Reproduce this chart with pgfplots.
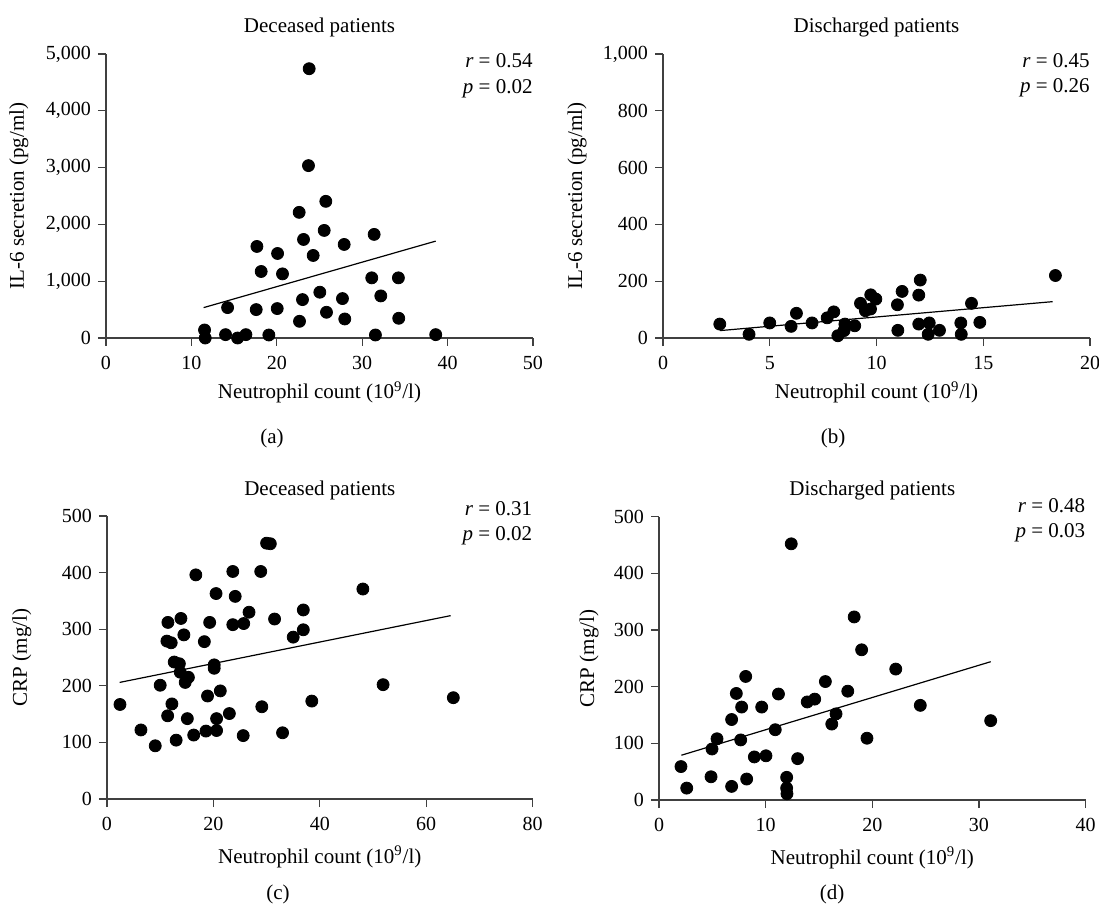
\documentclass[border=0pt]{standalone}
\usepackage{fontspec}
\setmainfont{Liberation Serif}
\usepackage{pgfplots}
\pgfplotsset{compat=1.18}
\pgfplotsset{
  myax/.style={
    scale only axis, width=213.5pt, height=142pt,
    axis lines=left,
    axis line style={-, draw=black!75, line width=0.6pt},
    every tick/.style={draw=black!75, line width=0.6pt},
    tick align=outside, major tick length=4pt,
    minor tick num=0,
    /pgf/number format/assume math mode=true,
    /pgf/number format/1000 sep={,},
    scaled ticks=false,
    ticklabel style={font=\fontsize{10}{12}\selectfont},
    xticklabel style={yshift=-1.5pt},
    label style={font=\fontsize{10.5}{12.6}\selectfont},
    xlabel style={at={(rel axis cs:0.5,0)}, anchor=base, yshift=-30.5pt},
    xlabel={Neutrophil count (10\textsuperscript{9}/l)},
    clip=false,
    anchor=south west,
    enlargelimits=false,
  },
  pts/.style={only marks, mark=*, mark size=3pt, color=black},
  fit/.style={no marks, black, line width=0.6pt},
}
\newcommand{\ann}[3]{%
  \node[anchor=base east, inner sep=0pt, font=\fontsize{10.5}{12.6}\selectfont] at (rel axis cs:1,1) [yshift=#3] {\textit{r} = #1};
  \node[anchor=base east, inner sep=0pt, font=\fontsize{10.5}{12.6}\selectfont] at (rel axis cs:1,1) [yshift=#3-12.5pt] {\textit{p} = #2};}
\newcommand{\ttl}[1]{%
  \node[anchor=base, inner sep=0pt, font=\fontsize{10.5}{12.6}\selectfont] at (rel axis cs:0.5,1) [yshift=10.5pt] {#1};}
\begin{document}
\begin{tikzpicture}
\useasboundingbox (0,0) rectangle (549.5pt,453.5pt);
% (a)
\begin{axis}[myax, at={(53pt,284.5pt)},
  xmin=0, xmax=50, ymin=0, ymax=5000,
  xtick={0,10,...,50}, ytick={0,1000,...,5000},
  ylabel={IL-6 secretion (pg/ml)},
  ylabel style={at={(rel axis cs:-0.204,0.5)}, anchor=center}]
\addplot[pts] coordinates {
(23.79,4741) (23.71,3035) (25.74,2406) (22.62,2212) (25.55,1894) (31.40,1824)
(23.13,1735) (27.89,1647) (17.67,1612) (20.09,1488) (24.26,1453) (18.17,1171)
(20.67,1129) (31.12,1059) (34.24,1059) (32.18,741) (25.04,806) (23.01,676)
(27.69,694) (14.24,535) (17.59,500) (20.05,518) (25.82,453) (27.96,335)
(34.28,347) (22.66,294) (11.54,141) (11.62,0) (14.0,59) (15.41,0)
(16.38,59) (19.07,53) (31.55,53) (38.61,59)};
\addplot[fit] coordinates {(11.43,535) (38.61,1706)};
\ttl{Deceased patients}
\ann{0.54}{0.02}{-7pt}
\end{axis}
% (b)
\begin{axis}[myax, at={(331.5pt,284.5pt)},
  xmin=0, xmax=20, ymin=0, ymax=1000,
  xtick={0,5,...,20}, ytick={0,200,...,1000},
  ylabel={IL-6 secretion (pg/ml)},
  ylabel style={at={(rel axis cs:-0.201,0.5)}, anchor=center}]
\addplot[pts] coordinates {
(2.66,49) (4.03,13) (5.0,53) (6.0,41) (6.25,87) (6.98,53) (7.69,71) (8.0,92)
(8.19,8) (8.48,26) (8.52,49) (8.98,43) (9.25,122) (9.48,96) (9.72,102)
(9.73,152) (9.97,137) (10.98,117) (11.0,27) (11.2,164) (11.98,151) (12.05,204)
(11.98,49) (12.47,53) (12.42,13) (12.95,27) (13.95,53) (13.97,13) (14.45,122)
(14.84,55) (18.38,220)};
\addplot[fit] coordinates {(2.66,26) (18.25,128)};
\ttl{Discharged patients}
\ann{0.45}{0.26}{-7pt}
\end{axis}
% (c)
\begin{axis}[myax, at={(53.5pt,54pt)}, width=212.8pt, height=141.5pt,
  xmin=0, xmax=80, ymin=0, ymax=500,
  xtick={0,20,...,80}, ytick={0,100,...,500},
  xlabel style={yshift=-1.5pt},
  ylabel={CRP (mg/l)},
  ylabel style={at={(rel axis cs:-0.2,0.5)}, anchor=center}]
\addplot[pts] coordinates {
(2.44,167) (6.38,122) (9.07,94) (10.0,201) (11.45,312) (11.26,279) (12.07,276)
(12.2,168) (11.4,147) (13.0,104) (12.64,242) (13.6,239) (13.9,319) (14.45,290)
(13.77,224) (14.7,206) (15.3,215) (15.1,142) (16.3,113) (16.7,396) (18.3,278)
(18.9,182) (18.6,120) (19.3,312) (20.15,237) (20.15,231) (20.5,363) (20.6,142)
(20.6,121) (21.3,191) (23.0,151) (23.65,402) (23.65,308) (24.1,358) (25.7,310)
(25.6,112) (26.7,330) (28.9,402) (29.1,163) (30.0,452) (30.7,451) (31.5,318)
(33.0,117) (35.0,286) (36.9,334) (36.9,299) (38.5,173) (48.1,371) (51.9,202)
(65.1,179)};
\addplot[fit] coordinates {(2.38,206) (64.6,324)};
\ttl{Deceased patients}
\ann{0.31}{0.02}{0.5pt}
\end{axis}
% (d)
\begin{axis}[myax, at={(329.5pt,53.5pt)}, width=213.3pt, height=141.7pt,
  xmin=0, xmax=40, ymin=0, ymax=500,
  xtick={0,10,...,40}, ytick={0,100,...,500},
  xlabel style={yshift=-1.5pt},
  ylabel={CRP (mg/l)},
  ylabel style={at={(rel axis cs:-0.164,0.5)}, anchor=center}]
\addplot[pts] coordinates {
(2.06,59) (2.6,21) (4.97,90) (4.88,41) (5.44,108) (6.81,142) (6.81,24) (7.25,188)
(7.75,164) (7.66,106) (8.13,218) (8.22,37) (8.94,76) (9.63,164) (10.03,78)
(10.9,124) (11.2,187) (11.97,40) (11.97,21) (12.0,11) (12.4,452) (13.0,73)
(13.9,173) (14.6,178) (15.6,209) (16.2,134) (16.6,152) (17.7,192) (18.3,323)
(19.0,265) (19.5,109) (22.2,231) (24.5,167) (31.1,140)};
\addplot[fit] coordinates {(2.1,79) (31.1,244)};
\ttl{Discharged patients}
\ann{0.48}{0.03}{2pt}
\end{axis}
\node[anchor=base, font=\fontsize{10.5}{12.6}\selectfont, inner sep=0pt] at (136pt,232pt) {(a)};
\node[anchor=base, font=\fontsize{10.5}{12.6}\selectfont, inner sep=0pt] at (416.5pt,232pt) {(b)};
\node[anchor=base, font=\fontsize{10.5}{12.6}\selectfont, inner sep=0pt] at (139pt,4pt) {(c)};
\node[anchor=base, font=\fontsize{10.5}{12.6}\selectfont, inner sep=0pt] at (416pt,4pt) {(d)};
\end{tikzpicture}
\end{document}
